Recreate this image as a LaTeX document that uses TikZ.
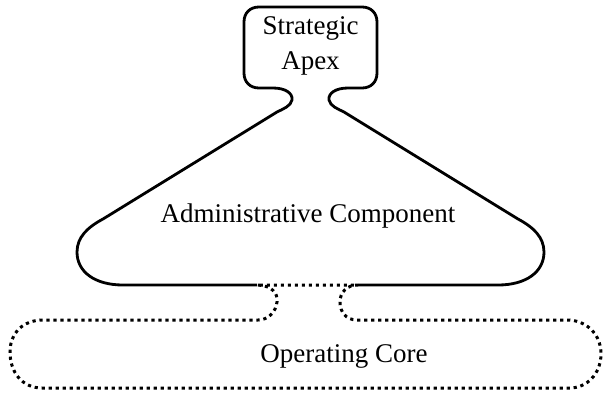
\documentclass[tikz,border=0pt]{standalone}
\usepackage{fontspec}
\setmainfont{Liberation Serif}
\begin{document}
\begin{tikzpicture}[x=1pt,y=-1pt,
  solidline/.style={line width=2.8pt, line join=round},
  dotline/.style={line width=3pt, dash pattern=on 3.2pt off 3.8pt},
  label/.style={font=\fontsize{27}{35}\selectfont, align=center, inner sep=0pt}]
\useasboundingbox (0,0) rectangle (603,392);

% Strategic apex and administrative component: one solid outline
\draw[solidline]
  (257,285) -- (123,285)
  .. controls (95,285) and (77,272) .. (77,252)
  .. controls (77,237) and (88,227) .. (103,219)
  -- (277,112)
  .. controls (283,109) and (291,106) .. (292,100)
  .. controls (293,93) and (285,88) .. (273,88)
  -- (259,88)
  .. controls (250,88) and (244,82) .. (244,73)
  -- (244,22)
  .. controls (244,13) and (250,7) .. (259,7)
  -- (362,7)
  .. controls (371,7) and (377,13) .. (377,22)
  -- (377,73)
  .. controls (377,82) and (371,88) .. (362,88)
  -- (348,88)
  .. controls (336,88) and (328,93) .. (329,100)
  .. controls (330,106) and (338,109) .. (344,112)
  -- (518,219)
  .. controls (533,227) and (544,237) .. (544,252)
  .. controls (544,272) and (526,285) .. (498,285)
  -- (358,285);

% Operating core: dotted outline
\draw[dotline]
  (258,285)
  .. controls (272,286) and (278,293) .. (277,302)
  .. controls (276,312) and (268,320) .. (258,320)
  -- (40,320)
  .. controls (20,322) and (10,335) .. (10,352)
  .. controls (10,372) and (22,388) .. (42,388)
  -- (572,388)
  .. controls (591,386) and (601,370) .. (601,354)
  .. controls (601,336) and (589,322) .. (570,320)
  -- (357,320)
  .. controls (346,320) and (340,312) .. (340,302)
  .. controls (340,292) and (347,285) .. (358,285)
  -- cycle;

\node[label] (apex) at (310.5,46) {Strategic\\Apex};
\node[label] (admin) at (308,216) {Administrative Component};
\node[label] (core) at (344,356) {Operating Core};
\end{tikzpicture}
\end{document}
